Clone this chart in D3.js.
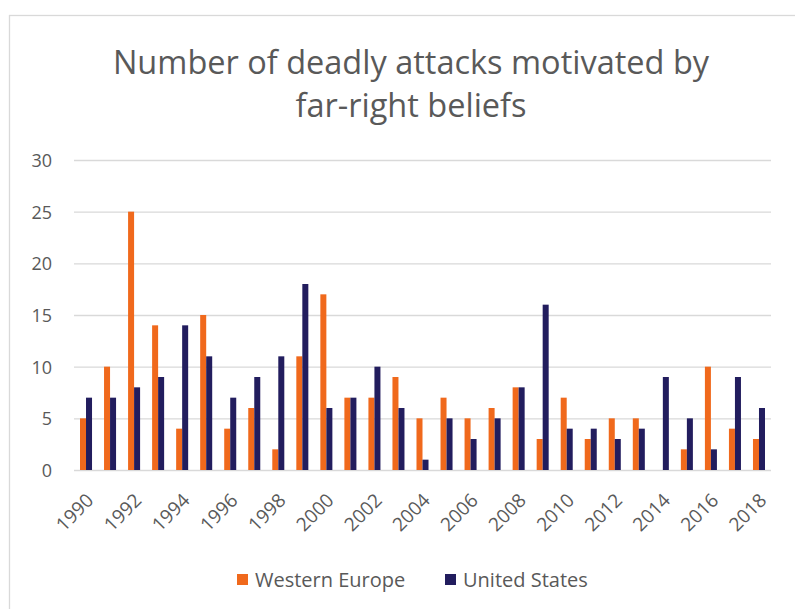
<!DOCTYPE html>
<html>
<head>
<meta charset="utf-8">
<script src="https://cdn.jsdelivr.net/npm/d3@7"></script>
<style>
  html, body { margin: 0; padding: 0; background: #fff; }
  svg text { font-family: "Open Sans", sans-serif; fill: #595959; }
</style>
</head>
<body>
<div id="chart"></div>
<script>
// data
const years = d3.range(1990, 2019).map(String);
const westernEurope = [5, 10, 25, 14, 4, 15, 4, 6, 2, 11, 17, 7, 7, 9, 5, 7, 5, 6, 8, 3, 7, 3, 5, 5, 0, 2, 10, 4, 3];
const unitedStates = [7, 7, 8, 9, 14, 11, 7, 9, 11, 18, 6, 7, 10, 6, 1, 5, 3, 5, 8, 16, 4, 4, 3, 4, 9, 5, 2, 9, 6];
const seriesNames = ["Western Europe", "United States"];
const yTicks = [0, 5, 10, 15, 20, 25, 30];
const titleLines = ["Number of deadly attacks motivated by", "far-right beliefs"];

const colors = { "Western Europe": "#f0691c", "United States": "#221d5e" };

const width = 795, height = 609;
const plot = { left: 74, right: 771, top: 160, bottom: 470 };

const svg = d3.select("#chart").append("svg")
  .attr("width", width)
  .attr("height", height);

// chart area border
svg.append("rect")
  .attr("x", 9.5).attr("y", 15.5)
  .attr("width", 800).attr("height", 700)
  .attr("fill", "#fff")
  .attr("stroke", "#d9d9d9")
  .attr("stroke-width", 1.3);

//----------------------------SCALES-----------------------------//
const x0 = d3.scaleBand()
  .domain(years)
  .range([plot.left, plot.right])
  .paddingInner(0.5)
  .paddingOuter(0.25);

const x1 = d3.scaleBand()
  .domain(seriesNames)
  .range([0, x0.bandwidth()]);

const y = d3.scaleLinear()
  .domain([0, 30])
  .range([plot.bottom, plot.top]);

//-----------------------------AXES------------------------------//
const yAxis = svg.append("g")
  .attr("transform", "translate(" + plot.left + ",0)")
  .call(d3.axisLeft(y).tickValues(yTicks).tickSize(-(plot.right - plot.left)).tickPadding(22));
yAxis.select(".domain").remove();
yAxis.selectAll(".tick line").attr("stroke", "#d9d9d9").attr("stroke-width", 1.4);
yAxis.selectAll(".tick text")
  .style("font-size", "18px")
  .attr("dy", "0.36em");

const xLabels = svg.append("g").attr("class", "x-labels");
xLabels.selectAll("text")
  .data(years.filter((d, i) => i % 2 === 0))
  .enter().append("text")
  .attr("transform", d => "translate(" + (x0(d) + x0.bandwidth() / 2 - 1) + ",492) rotate(-45)")
  .attr("text-anchor", "end")
  .attr("dy", "0.72em")
  .style("font-size", "19px")
  .text(d => d);

//----------------------------BARS-------------------------------//
const rows = years.map((yr, i) => ({
  year: yr,
  values: [
    { key: "Western Europe", value: westernEurope[i] },
    { key: "United States", value: unitedStates[i] }
  ]
}));

svg.append("g").selectAll("g")
  .data(rows)
  .enter().append("g")
  .attr("transform", d => "translate(" + x0(d.year) + ",0)")
  .selectAll("rect")
  .data(d => d.values)
  .enter().append("rect")
  .attr("x", d => x1(d.key))
  .attr("width", x1.bandwidth())
  .attr("y", d => y(d.value))
  .attr("height", d => y(0) - y(d.value))
  .attr("fill", d => colors[d.key]);

//----------------------------TITLE------------------------------//
const title = svg.append("g");
title.selectAll("text")
  .data(titleLines)
  .enter().append("text")
  .attr("x", 411)
  .attr("y", (d, i) => 74 + i * 43)
  .attr("text-anchor", "middle")
  .style("font-size", "32.5px")
  .text(d => d);

//----------------------------LEGEND-----------------------------//
const legendX = [237, 445];
const legend = svg.append("g");
const items = legend.selectAll("g")
  .data(seriesNames)
  .enter().append("g")
  .attr("transform", (d, i) => "translate(" + legendX[i] + ",573)");
items.append("rect")
  .attr("width", 11).attr("height", 11)
  .attr("y", 1)
  .attr("fill", d => colors[d]);
items.append("text")
  .attr("x", 18)
  .attr("y", 14)
  .style("font-size", "20px")
  .text(d => d);
</script>
</body>
</html>
